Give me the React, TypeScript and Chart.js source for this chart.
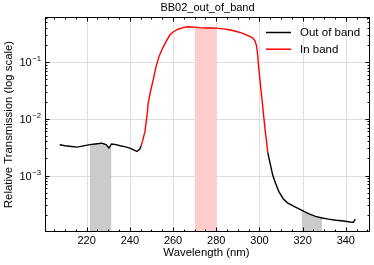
import React, { useEffect, useRef } from "react";
import { Chart, registerables } from "chart.js";
Chart.register(...registerables);

const TITLE = "BB02_out_of_band";
const X_LABEL = "Wavelength (nm)";
const Y_LABEL = "Relative Transmission (log scale)";
const LEGEND_LABELS = ["Out of band", "In band"];
const LEGEND_COLORS = ["#000000", "#ff0000"];

// Out of band (short-wavelength side)
const outLeftWl = [207.5, 210, 213, 215.5, 218, 221.5, 224, 227, 229, 230.3, 231.5, 233, 235.5, 238, 240, 242, 243.3, 244.5, 245.2];
const outLeftT = [3.48e-3, 3.35e-3, 3.25e-3, 3.17e-3, 3.3e-3, 3.5e-3, 3.6e-3, 3.73e-3, 3.5e-3, 3.05e-3, 3.6e-3, 3.55e-3, 3.35e-3, 3.2e-3, 3.05e-3, 2.8e-3, 2.65e-3, 2.9e-3, 3.3e-3];

// In band
const inWl = [245.2, 246, 247, 248, 248.5, 249.5, 251, 252, 253.5, 255, 256.5, 258.5, 260, 262.3, 265, 267, 270, 272, 275, 278, 280, 283, 286, 289, 292, 295, 297, 298, 298.7, 299.2, 299.6, 300.2, 300.8, 301.3, 302, 302.6, 303.2, 303.9];
const inT = [3.3e-3, 4.2e-3, 6e-3, 1.2e-2, 1.9e-2, 3e-2, 5.2e-2, 8e-2, 0.126, 0.17, 0.22, 0.3, 0.34, 0.38, 0.41, 0.42, 0.414, 0.405, 0.4, 0.4, 0.398, 0.385, 0.372, 0.35, 0.325, 0.29, 0.265, 0.235, 0.19, 0.13, 0.085, 0.05, 0.03, 0.02, 0.011, 6.5e-3, 4.2e-3, 2.5e-3];

// Out of band (long-wavelength side)
const outRightWl = [303.9, 305, 306.2, 307.5, 309, 311, 313, 316, 319.5, 323, 326, 329, 332, 335.5, 339, 342, 343.5, 344.4];
const outRightT = [2.5e-3, 1.6e-3, 1.0e-3, 7.2e-4, 5.2e-4, 3.9e-4, 3.3e-4, 2.85e-4, 2.45e-4, 2.1e-4, 1.9e-4, 1.78e-4, 1.7e-4, 1.63e-4, 1.58e-4, 1.52e-4, 1.5e-4, 1.7e-4];

const xTicks = [220, 240, 260, 280, 300, 320, 340];
const xMinorStep = 5;
const yTickExponents = [-3, -2, -1];

const grayBands = [[221.5, 231.5], [319.5, 329]];
const pinkBands = [[270, 280]];

const X_MIN = 200.7;
const X_MAX = 351.2;
const Y_MIN = 1.01e-4;
const Y_MAX = 0.624;

const FONT = "'Liberation Sans', Arial, sans-serif";

function pts(wl: number[], t: number[]) {
  return wl.map((x, i) => ({ x, y: t[i] }));
}

export default function App() {
  const ref = useRef<HTMLCanvasElement | null>(null);
  useEffect(() => {
    const canvas = ref.current;
    if (!canvas) return;
    const allPts = [...pts(outLeftWl, outLeftT), ...pts(inWl, inT), ...pts(outRightWl, outRightT)];
    const bandData = (lo: number, hi: number) => allPts.filter((p) => p.x >= lo && p.x <= hi);

    const outPts = [...pts(outLeftWl, outLeftT), { x: 275, y: null as any }, ...pts(outRightWl, outRightT)];

    const datasets: any[] = [
      {
        data: outPts,
        borderColor: "#000000",
        borderWidth: 1.4,
        pointRadius: 0,
        spanGaps: false,
        fill: false,
        order: 1,
      },
      {
        data: pts(inWl, inT),
        borderColor: "#ff0000",
        borderWidth: 1.4,
        pointRadius: 0,
        fill: false,
        order: 1,
      },
    ];
    grayBands.forEach(([lo, hi]) =>
      datasets.push({
        data: bandData(lo, hi),
        borderWidth: 0,
        borderColor: "rgba(0,0,0,0)",
        backgroundColor: "#cbcbcb",
        pointRadius: 0,
        fill: "start",
        order: 3,
      })
    );
    pinkBands.forEach(([lo, hi]) =>
      datasets.push({
        data: bandData(lo, hi),
        borderWidth: 0,
        borderColor: "rgba(0,0,0,0)",
        backgroundColor: "#ffcccc",
        pointRadius: 0,
        fill: "start",
        order: 3,
      })
    );

    const decorations = {
      id: "decorations",
      beforeDatasetsDraw(chart: any) {
        const { ctx, chartArea: a, scales } = chart;
        const xs = scales.x;
        const ys = scales.y;
        ctx.save();
        ctx.strokeStyle = "#dedede";
        ctx.lineWidth = 1;
        xTicks.forEach((v) => {
          const px = Math.round(xs.getPixelForValue(v)) + 0.5;
          ctx.beginPath();
          ctx.moveTo(px, a.top);
          ctx.lineTo(px, a.bottom);
          ctx.stroke();
        });
        yTickExponents.forEach((e) => {
          const py = Math.round(ys.getPixelForValue(Math.pow(10, e))) + 0.5;
          ctx.beginPath();
          ctx.moveTo(a.left, py);
          ctx.lineTo(a.right, py);
          ctx.stroke();
        });
        ctx.restore();
      },
      afterDatasetsDraw(chart: any) {
        const { ctx, chartArea: a, scales } = chart;
        const xs = scales.x;
        const ys = scales.y;
        ctx.save();
        ctx.strokeStyle = "#000";
        ctx.lineWidth = 1;
        const L = a.left + 0.5, R = a.right - 0.5, T = a.top + 0.5, B = a.bottom - 0.5;
        ctx.strokeRect(L, T, R - L, B - T);

        const tick = (x1: number, y1: number, x2: number, y2: number) => {
          ctx.beginPath();
          ctx.moveTo(x1, y1);
          ctx.lineTo(x2, y2);
          ctx.stroke();
        };
        // x ticks
        for (let v = Math.ceil(X_MIN / xMinorStep) * xMinorStep; v <= X_MAX; v += xMinorStep) {
          const px = Math.round(xs.getPixelForValue(v)) + 0.5;
          const major = xTicks.includes(v);
          const len = major ? 4 : 2;
          tick(px, B, px, B - len);
          tick(px, T, px, T + len);
        }
        // y ticks
        for (let e = -5; e <= 0; e++) {
          for (let k = 1; k <= 9; k++) {
            const v = k * Math.pow(10, e);
            if (v < Y_MIN || v > Y_MAX) continue;
            const py = Math.round(ys.getPixelForValue(v)) + 0.5;
            const len = k === 1 ? 4 : 2;
            tick(L, py, L + len, py);
            tick(R, py, R - len, py);
          }
        }

        ctx.fillStyle = "#000";
        // x tick labels
        ctx.font = `11px ${FONT}`;
        ctx.textAlign = "center";
        ctx.textBaseline = "alphabetic";
        xTicks.forEach((v) => {
          ctx.fillText(String(v), xs.getPixelForValue(v), 244);
        });
        // y tick labels with superscript
        yTickExponents.forEach((e) => {
          const py = ys.getPixelForValue(Math.pow(10, e));
          const sup = "\u2212" + String(Math.abs(e));
          ctx.font = `7.7px ${FONT}`;
          const wSup = ctx.measureText(sup).width;
          ctx.font = `11px ${FONT}`;
          const wBase = ctx.measureText("10").width;
          const right = 41;
          ctx.textAlign = "left";
          ctx.fillText("10", right - wSup - wBase - 0.5, py + 4);
          ctx.font = `7.7px ${FONT}`;
          ctx.fillText(sup, right - wSup, py - 0.8);
        });
        // axis labels
        ctx.font = `11.4px ${FONT}`;
        ctx.textAlign = "center";
        ctx.fillText(X_LABEL, (a.left + a.right) / 2 - 1, 256);
        ctx.save();
        ctx.translate(12, (a.top + a.bottom) / 2);
        ctx.rotate(-Math.PI / 2);
        ctx.fillText(Y_LABEL, 0, 0);
        ctx.restore();
        // title
        ctx.font = `11px ${FONT}`;
        ctx.fillText(TITLE, (a.left + a.right) / 2, 11);
        // legend
        ctx.font = `11.5px ${FONT}`;
        ctx.textAlign = "left";
        ctx.textBaseline = "middle";
        LEGEND_LABELS.forEach((lab, i) => {
          const y = 32.5 + i * 16.7;
          ctx.strokeStyle = LEGEND_COLORS[i];
          ctx.lineWidth = 1.5;
          tick(266, y, 291, y);
          ctx.fillText(lab, 300, y + 0.5);
        });
        ctx.restore();
      },
    };

    const chart = new Chart(canvas, {
      type: "line",
      data: { datasets },
      options: {
        animation: false,
        responsive: false,
        devicePixelRatio: 1,
        layout: { padding: { left: 45, right: 4, top: 17, bottom: 33 } },
        plugins: { legend: { display: false }, tooltip: { enabled: false }, title: { display: false } },
        elements: { line: { tension: 0 } },
        scales: {
          x: { type: "linear", min: X_MIN, max: X_MAX, display: false },
          y: { type: "logarithmic", min: Y_MIN, max: Y_MAX, display: false },
        },
      } as any,
      plugins: [decorations],
    });
    return () => chart.destroy();
  }, []);

  return (
    <div style={{ position: "fixed", left: 0, top: 0, width: 374, height: 265, background: "#fff" }}>
      <canvas ref={ref} width={374} height={265} style={{ width: 374, height: 265, display: "block" }} />
    </div>
  );
}
